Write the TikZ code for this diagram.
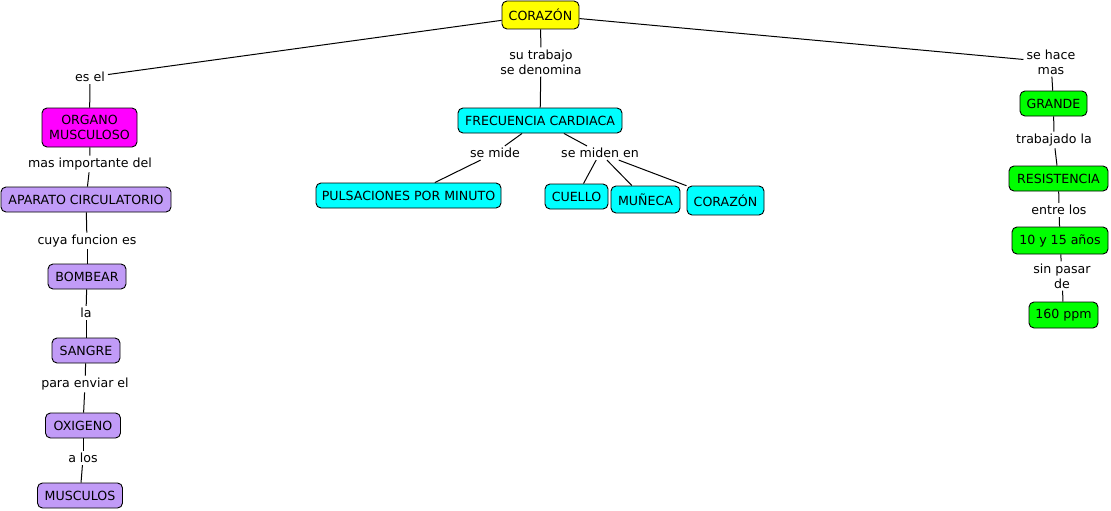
\documentclass[tikz,border=0pt]{standalone}
\usepackage{fontspec}
\setmainfont{DejaVu Sans}
\definecolor{lav}{RGB}{193,155,247}
\definecolor{cy}{RGB}{0,255,255}
\definecolor{gr}{RGB}{0,255,0}
\definecolor{mg}{RGB}{255,0,255}
\definecolor{ye}{RGB}{255,255,0}
\begin{document}
\begin{tikzpicture}[x=1pt,y=-1pt,
  concept/.style={draw=black, line width=0.9pt, rounded corners=5pt, inner xsep=4pt, inner ysep=0pt,
    minimum height=25pt, text=black, font=\fontsize{12.6}{15}\selectfont, align=center},
  link/.style={inner xsep=3pt, inner ysep=2pt, font=\fontsize{12.6}{15}\selectfont, align=center, text=black},
  conn/.style={draw=black, line width=1pt}
]
\useasboundingbox (0,0) rectangle (1111,511);

% top
\node[concept, fill=ye, minimum width=77pt, minimum height=28pt] (c0) at (540.5,15) {CORAZÓN};
\node[link] (l0) at (541,62) {su trabajo\\se denomina};
\node[concept, fill=cy, minimum width=164pt] (fc) at (540,120.5) {FRECUENCIA CARDIACA};

% left column
\node[link] (l1) at (90,77) {es el};
\node[concept, fill=mg, minimum width=95pt, minimum height=39pt] (om) at (89.5,127.5) {ORGANO\\MUSCULOSO};
\node[link] (l2) at (90,164) {mas importante del};
\node[concept, fill=lav, minimum width=170pt] (ac) at (86,199.5) {APARATO CIRCULATORIO};
\node[link] (l3) at (87,241) {cuya funcion es};
\node[concept, fill=lav, minimum width=78pt] (bo) at (87,276.5) {BOMBEAR};
\node[link] (l4) at (86,313) {la};
\node[concept, fill=lav, minimum width=68pt] (sa) at (86,350.5) {SANGRE};
\node[link] (l5) at (85,384) {para enviar el};
\node[concept, fill=lav, minimum width=75pt] (ox) at (83,425.5) {OXIGENO};
\node[link] (l6) at (83,458) {a los};
\node[concept, fill=lav, minimum width=85pt] (mu) at (80,495.5) {MUSCULOS};

% middle
\node[link] (l7) at (495,153) {se mide};
\node[link] (l8) at (600,153) {se miden en};
\node[concept, fill=cy, minimum width=185pt] (pm) at (408.5,195.5) {PULSACIONES POR MINUTO};
\node[concept, fill=cy, minimum width=63pt] (cu) at (576.5,196.5) {CUELLO};
\node[concept, fill=cy, minimum width=69pt, minimum height=27pt] (mn) at (645.5,199.5) {MUÑECA};
\node[concept, fill=cy, minimum width=77pt, minimum height=29pt] (c2) at (725.5,200.5) {CORAZÓN};

% right column
\node[link] (l9) at (1051,62) {se hace\\mas};
\node[concept, fill=gr, minimum width=67pt] (gd) at (1053.5,103.5) {GRANDE};
\node[link] (l10) at (1054,140) {trabajado la};
\node[concept, fill=gr, minimum width=99pt] (rs) at (1058.5,178.5) {RESISTENCIA};
\node[link] (l11) at (1059,210) {entre los};
\node[concept, fill=gr, minimum width=96pt, minimum height=27pt] (an) at (1060,240.5) {10 y 15 años};
\node[link] (l12) at (1062,276) {sin pasar\\de};
\node[concept, fill=gr, minimum width=69pt, minimum height=26pt] (pp) at (1063.5,315) {160 ppm};

% connectors
\draw[conn] (c0) -- (l0);
\draw[conn] (l0) -- (fc);
\draw[conn] (c0) -- (l1);
\draw[conn] (c0) -- (l9);
\draw[conn] (l1) -- (om);
\draw[conn] (om) -- (l2);
\draw[conn] (l2) -- (ac);
\draw[conn] (ac) -- (l3);
\draw[conn] (l3) -- (bo);
\draw[conn] (bo) -- (l4);
\draw[conn] (l4) -- (sa);
\draw[conn] (sa) -- (l5);
\draw[conn] (l5) -- (ox);
\draw[conn] (ox) -- (l6);
\draw[conn] (l6) -- (mu);
\draw[conn] (fc) -- (l7);
\draw[conn] (l7) -- (pm);
\draw[conn] (fc) -- (l8);
\draw[conn] (l8) -- (cu);
\draw[conn] (l8) -- (mn);
\draw[conn] (l8) -- (c2);
\draw[conn] (l9) -- (gd);
\draw[conn] (gd) -- (l10);
\draw[conn] (l10) -- (rs);
\draw[conn] (rs) -- (l11);
\draw[conn] (l11) -- (an);
\draw[conn] (an) -- (l12);
\draw[conn] (l12) -- (pp);
\end{tikzpicture}
\end{document}
